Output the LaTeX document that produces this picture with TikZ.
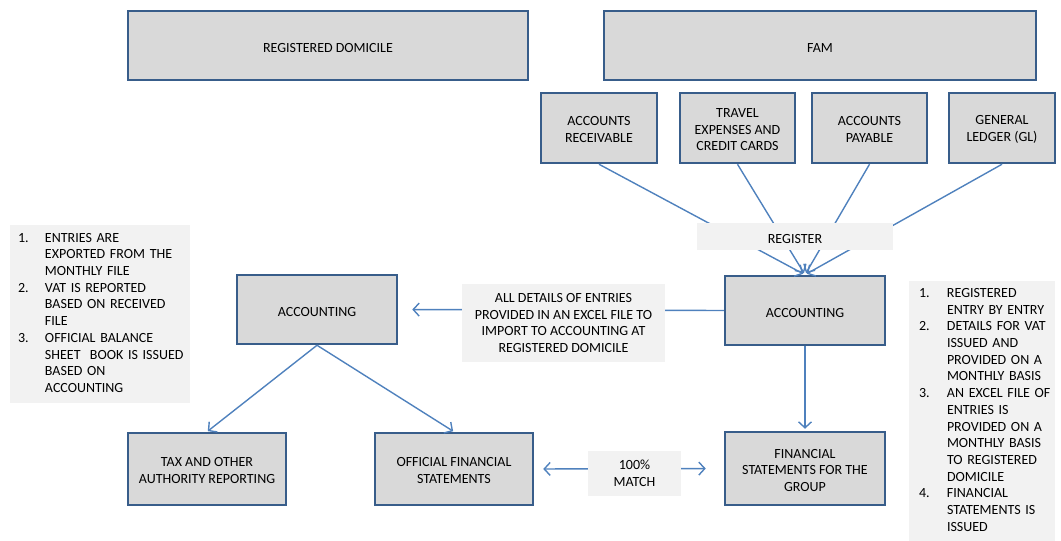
\documentclass[tikz,border=0pt]{standalone}
\usepackage{fontspec}
\setmainfont{Carlito}
\usetikzlibrary{arrows.meta}
\definecolor{boxfill}{HTML}{D9D9D9}
\definecolor{boxline}{HTML}{385D8A}
\definecolor{flow}{HTML}{4F81BD}
\definecolor{notefill}{HTML}{F2F2F2}
% a taller first line sets the text a little below the box centre
\newcommand\firstline[1][12.5pt]{\rule{0pt}{#1}}
\begin{document}
\begin{tikzpicture}[x=1pt,y=-1pt,
  every node/.style={font=\fontsize{14}{16.7}\selectfont, align=center, inner sep=0pt, text=black},
  block/.style={draw=boxline, line width=2.5pt, fill=boxfill},
  tag/.style={fill=notefill},
  flowline/.style={draw=flow, line width=1.4pt, -{Straight Barb[length=6pt,width=13pt]}},
  twoway/.style={draw=flow, line width=1.4pt, {Straight Barb[length=6pt,width=13pt]}-{Straight Barb[length=6pt,width=13pt]}},
]
\useasboundingbox (0,0) rectangle (1061,541);

% top level units
\node[block, minimum width=400pt, minimum height=69pt] (rd)  at (328,45.5) {\firstline[14pt]REGISTERED DOMICILE};
\node[block, minimum width=432pt, minimum height=69pt] (fam) at (820,45.5) {\firstline[14pt]FAM};

% FAM departments
\node[block, minimum width=116pt, minimum height=70pt] (ar) at (599,128)   {\firstline ACCOUNTS\\RECEIVABLE};
\node[block, minimum width=115pt, minimum height=70pt] (tr) at (737.5,128) {\firstline TRAVEL\\EXPENSES AND\\CREDIT CARDS};
\node[block, minimum width=115pt, minimum height=70pt] (ap) at (869.5,128) {\firstline ACCOUNTS\\PAYABLE};
\node[block, minimum width=106pt, minimum height=70pt] (gl) at (1002,128)  {\firstline GENERAL\\LEDGER (GL)};

% accounting and reporting
\node[block, minimum width=160pt, minimum height=69pt] (accR) at (805,310.5) {\firstline[14pt]ACCOUNTING};
\node[block, minimum width=160pt, minimum height=69pt] (accL) at (317,309.5) {\firstline[14pt]ACCOUNTING};
\node[block, minimum width=158pt, minimum height=72pt] (tax)  at (207,469)   {\firstline TAX AND OTHER\\AUTHORITY REPORTING};
\node[block, minimum width=158pt, minimum height=72pt] (ofs)  at (454,469)   {\firstline OFFICIAL FINANCIAL\\STATEMENTS};
\node[block, minimum width=160pt, minimum height=73pt] (fsg)  at (805,468.5) {\firstline FINANCIAL\\STATEMENTS FOR THE\\GROUP};

% notes
\node[tag, text width=164pt, inner xsep=8pt, minimum height=178pt, align=left] (lnote) at (100,314)
  {\begin{tabular}{@{}p{27pt}@{}l@{}}
   1. & ENTRIES ARE\\
      & EXPORTED FROM THE\\
      & MONTHLY FILE\\
   2. & VAT IS REPORTED\\
      & BASED ON RECEIVED\\
      & FILE\\
   3. & OFFICIAL BALANCE\\
      & SHEET~ BOOK IS ISSUED\\
      & BASED ON\\
      & ACCOUNTING
   \end{tabular}};
\node[tag, text width=126pt, inner xsep=10pt, minimum height=260pt, align=left] (rnote) at (982,411)
  {\begin{tabular}{@{}p{28pt}@{}l@{}}
   1. & REGISTERED\\
      & ENTRY BY ENTRY\\
   2. & DETAILS FOR VAT\\
      & ISSUED AND\\
      & PROVIDED ON A\\
      & MONTHLY BASIS\\
   3. & AN EXCEL FILE OF\\
      & ENTRIES IS\\
      & PROVIDED ON A\\
      & MONTHLY BASIS\\
      & TO REGISTERED\\
      & DOMICILE\\
   4. & FINANCIAL\\
      & STATEMENTS IS\\
      & ISSUED
   \end{tabular}};

% connectors
\draw[flowline, shorten >=2pt] (ar.south) -- (accR.north);
\draw[flowline, shorten >=2pt] (tr.south) -- (accR.north);
\draw[flowline, shorten >=2pt] (ap.south) -- (accR.north);
\draw[flowline, shorten >=2pt] (gl.south) -- (accR.north);
\draw[flowline, shorten >=14pt] (accR.west) -- (accL.east);
\draw[flowline, shorten >=2pt] (accR.south) -- (fsg.north);
\draw[flowline, shorten >=1pt] (accL.south) -- (tax.north);
\draw[flowline, shorten >=1pt] (accL.south) -- (ofs.north);
\draw[twoway, shorten <=9pt, shorten >=18pt] (ofs.east) -- (fsg.west);

% labels on the connectors
\node[tag, minimum width=196pt, minimum height=27pt] (reg) at (795,236.5) {\firstline[14pt]REGISTER};
\node[tag, minimum width=203pt, minimum height=78pt] (xfer) at (563.5,323)
  {ALL DETAILS OF ENTRIES\\PROVIDED IN AN EXCEL FILE TO\\IMPORT TO ACCOUNTING AT\\REGISTERED DOMICILE};
\node[tag, minimum width=93pt, minimum height=45pt] (match) at (634.5,473.5) {100\%\\MATCH};
\end{tikzpicture}
\end{document}
